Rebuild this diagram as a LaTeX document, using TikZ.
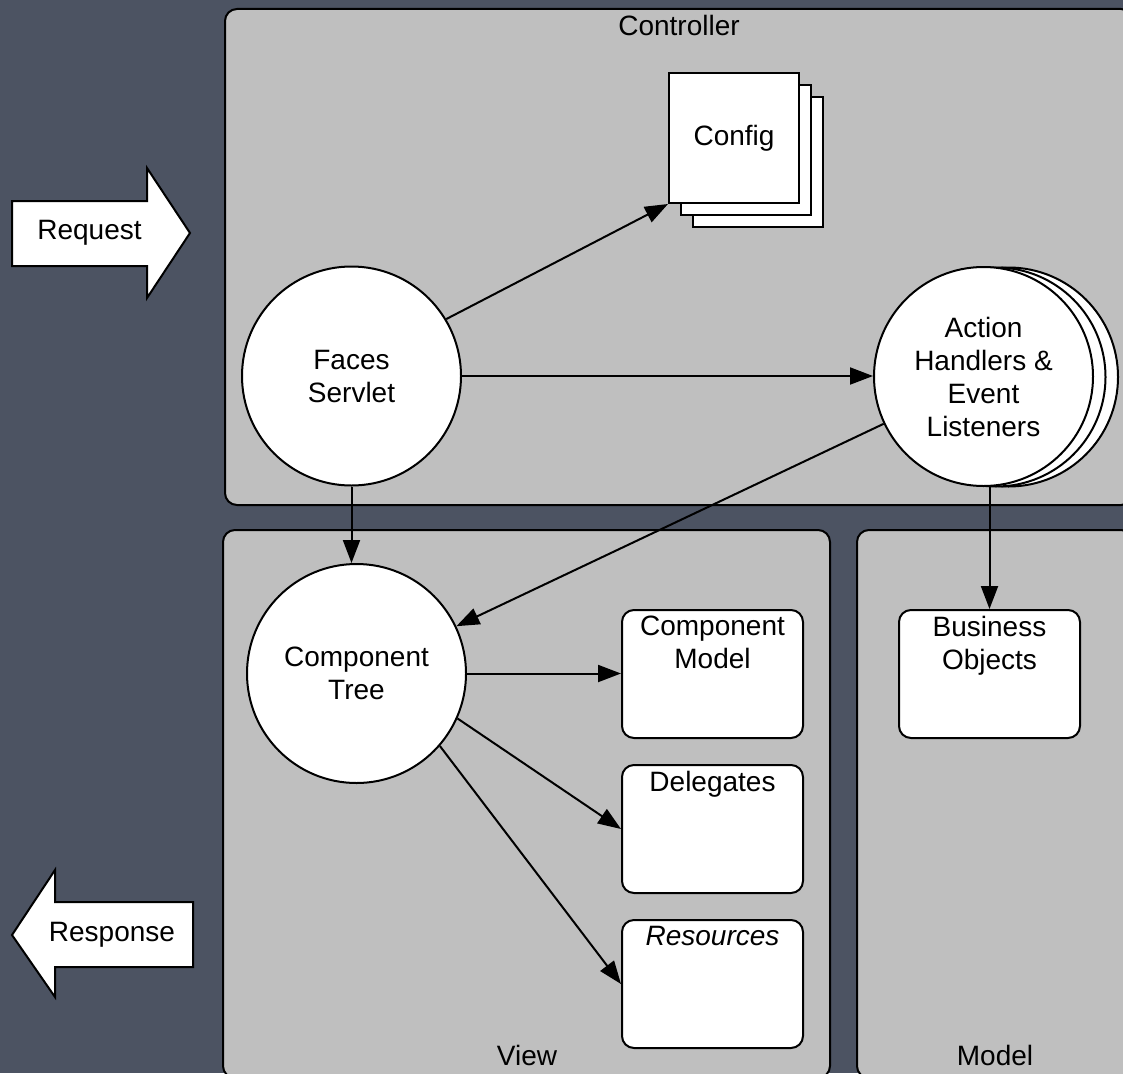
\documentclass[tikz,border=0pt]{standalone}
\usepackage{fontspec}
\setmainfont{Liberation Sans}
\usetikzlibrary{arrows.meta}
\definecolor{bgc}{RGB}{76,83,98}
\definecolor{panelc}{RGB}{191,191,191}
\begin{document}
\begin{tikzpicture}[x=1pt,y=-1pt,
  every node/.style={font=\fontsize{28}{33}\selectfont},
  panel/.style={fill=panelc, draw=black, line width=2pt, rounded corners=12pt},
  bubble/.style={circle, draw=black, fill=white, line width=2pt, minimum size=219pt, inner sep=0pt, align=center},
  sheet/.style={rectangle, draw=black, fill=white, line width=2pt, minimum size=130pt, inner sep=0pt},
  box/.style={rectangle, rounded corners=12pt, draw=black, fill=white, line width=2pt, minimum width=181pt, minimum height=128pt, inner sep=0pt},
  boxlabel/.style={anchor=north, inner sep=0pt, yshift=-7pt, align=center},
  bigarrow/.style={draw=black, fill=white, line width=2pt, line join=miter},
  arr/.style={line width=2pt, -{Triangle[length=23pt,width=17pt]}}
]
\useasboundingbox (0,0) rectangle (1123,1073);
\fill[bgc] (0,0) rectangle (1123,1073);

% panels
\draw[panel] (225,9) rectangle (1133,505);
\draw[panel] (223,530) rectangle (830,1078);
\draw[panel] (857,530) rectangle (1133,1078);
\node (lctrl) at (679,25) {Controller};
\node (lview) at (527,1055) {View};
\node (lmodel) at (995,1055) {Model};

% request / response
\draw[bigarrow] (12,201) -- (147,201) -- (147,168) -- (190,233) -- (147,298) -- (147,266) -- (12,266) -- cycle;
\node (req) at (89.5,233) {Request};
\draw[bigarrow] (193,902) -- (55,902) -- (55,870) -- (12,935) -- (55,997) -- (55,967) -- (193,967) -- cycle;
\node (resp) at (112,935) {Response};

% config sheets
\node[sheet] (cfg3) at (758,162) {};
\node[sheet] (cfg2) at (746,150) {};
\node[sheet] (cfg) at (734,138) {Config};

% circles
\node[bubble] (fs) at (351.5,376) {Faces\\Servlet};
\node[bubble] (ah3) at (1008.5,377) {};
\node[bubble] (ah2) at (996,377) {};
\node[bubble] (ah) at (983.5,376.5) {Action\\Handlers \&\\Event\\Listeners};
\node[bubble] (ct) at (356.5,673.5) {Component\\Tree};

% boxes
\node[box, label={[boxlabel]north:{Component\\Model}}] (cm) at (712.5,674) {};
\node[box, label={[boxlabel]north:{Delegates}}] (del) at (712.5,829) {};
\node[box, label={[boxlabel]north:{\itshape Resources}}] (res) at (712.5,984) {};
\node[box, label={[boxlabel]north:{Business\\Objects}}] (bo) at (989.5,674) {};

% connectors
\draw[arr] (fs.31) -- (cfg.south west);
\draw[arr] (fs.east) -- (fs.east -| ah.west);
\draw[arr] (ah) -- (ct);
\draw[arr] (fs.south) -- (fs.south |- ct.north);
\draw[arr] (ah.south -| bo.north) -- (bo.north);
\draw[arr] (ct.east) -- (ct.east -| cm.west);
\draw[arr] (ct.-24) -- (del.west);
\draw[arr] (ct.-41) -- (res.west);
\end{tikzpicture}
\end{document}
